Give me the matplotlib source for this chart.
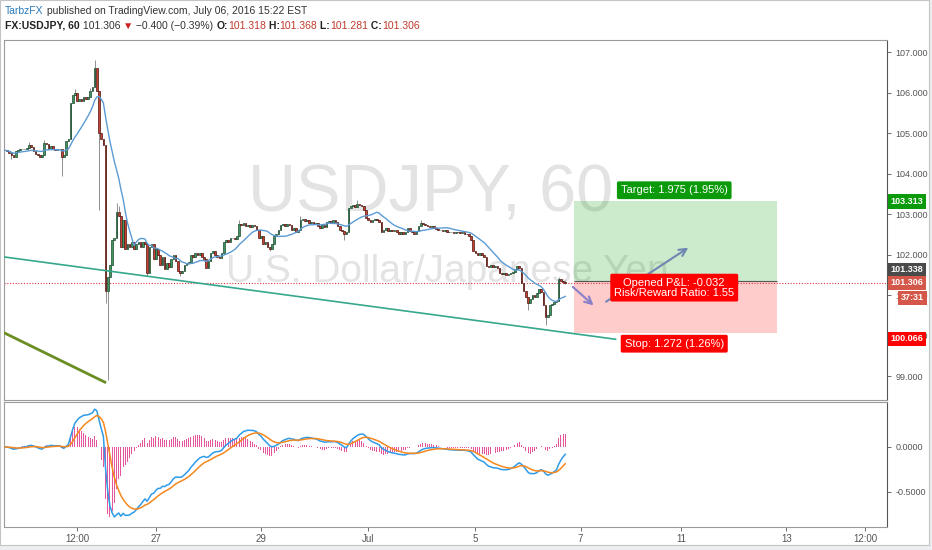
import numpy as np
import pandas as pd
import matplotlib
matplotlib.use('Agg')
import matplotlib.pyplot as plt
import matplotlib.transforms as mtransforms
from matplotlib.patches import Rectangle

plt.rcParams['font.family'] = ['Liberation Sans Narrow', 'Liberation Sans', 'DejaVu Sans']

# hourly bars, index 0 = Jun 27 00:00
first_bar = -69
closes = [
    104.58, 104.55, 104.52, 104.45, 104.42, 104.55, 104.58, 104.60, 104.62, 104.60,
    104.63, 104.70, 104.65, 104.55, 104.48, 104.45, 104.42, 104.45, 104.75, 104.72,
    104.62, 104.68, 104.60, 104.58, 104.60, 104.62, 104.40, 104.45, 104.80,
    104.85, 105.75, 105.95, 106.00, 105.80, 105.85, 105.80, 105.90, 105.85, 105.90,
    106.05, 106.15, 106.60, 106.05, 105.00, 104.85, 104.70, 101.10, 101.45, 101.75,
    102.35, 102.40, 103.05, 102.95, 102.20, 102.85, 102.15, 102.25, 102.20, 102.30,
    102.15, 102.25, 102.30, 102.20, 102.30, 102.25, 101.55, 102.20, 102.25, 101.90,
    102.15, 102.00, 101.75, 101.95, 101.65, 101.80, 101.70, 101.90, 102.00, 101.85,
    101.60, 101.55, 101.60, 101.75, 101.80, 101.82, 102.00, 101.95, 102.05, 102.00,
    102.05, 101.95, 101.90, 101.68, 101.85, 102.05, 102.10, 102.00, 101.95, 101.92,
    102.05, 102.30, 102.35, 102.30, 102.40, 102.42, 102.38, 102.45, 102.75, 102.72,
    102.78, 102.70, 102.74, 102.68, 102.72, 102.70, 102.62, 102.40, 102.45, 102.25,
    102.30, 102.20, 102.15, 102.25, 102.45, 102.52, 102.60, 102.72, 102.75, 102.70,
    102.76, 102.72, 102.60, 102.65, 102.55, 102.62, 102.85, 102.88, 102.82, 102.85,
    102.78, 102.80, 102.75, 102.78, 102.70, 102.65, 102.72, 102.68, 102.80, 102.82,
    102.78, 102.85, 102.80, 102.70, 102.62, 102.58, 102.50, 102.55, 103.15, 103.20,
    103.22, 103.18, 103.25, 103.22, 103.20, 103.10, 102.90, 102.85, 102.80, 102.85,
    102.88, 102.85, 102.80, 102.55, 102.60, 102.65, 102.58, 102.62, 102.58, 102.62,
    102.55, 102.52, 102.55, 102.50, 102.55, 102.65, 102.58, 102.55, 102.52, 102.58,
    102.70, 102.77, 102.75, 102.72, 102.70, 102.68, 102.70, 102.66, 102.64, 102.60,
    102.62, 102.58, 102.60, 102.56, 102.55, 102.57, 102.54, 102.56, 102.55, 102.53,
    102.55, 102.52, 102.50, 102.45, 102.35, 102.10, 102.05, 101.98, 102.05, 102.00,
    101.95, 101.72, 101.70, 101.75, 101.70, 101.72, 101.68, 101.55, 101.52, 101.55,
    101.50, 101.52, 101.55, 101.58, 101.65, 101.72, 101.68, 101.30, 101.10, 100.95,
    100.80, 100.90, 101.00, 100.95, 101.05, 101.15, 101.08, 100.75, 100.45, 100.50,
    100.75, 100.78, 100.82, 100.85, 101.40, 101.35, 101.318, 101.306,
]
spike_high = {-58: 104.78, -51: 104.82, -37: 106.08, -30: 106.12, -28: 106.80,
              -18: 103.27, -17: 103.20, 38: 102.85, 66: 102.95, 92: 103.35,
              121: 102.85, 184: 101.45, 187: 101.368}
spike_low = {-66: 104.35, -43: 103.95, -26: 103.10, -23: 100.80, -22: 98.90, -4: 101.48,
             11: 101.48, 52: 102.10, 86: 102.36, 170: 100.63, 178: 100.26, 187: 101.281}

# drawings
trend_x, trend_y = [-69, 210], [101.94, 99.91]
olive_x, olive_y = [-69, -23.3], [100.06, 98.85]
entry, target, stop = 101.338, 103.313, 100.066
pos_start, pos_end = 191, 283.6
arrow1 = [(189.5, 101.25), (200.9, 100.70)]
arrow2 = [(204.6, 100.80), (244.3, 102.21)]

tick_bars = [-36, 0, 48, 97, 146, 194, 240, 288, 324]
tick_labels = ['12:00', '27', '29', 'Jul', '5', '7', '11', '13', '12:00']
price_ticks = [99, 100, 101, 102, 103, 104, 105, 106, 107]

W, H = 932, 550
fig = plt.figure(figsize=(9.32, 5.5), dpi=100)
fig.patch.set_facecolor('#eceef1')
fig.patches.append(Rectangle((0, 1 - 545 / H), 929 / W, 545 / H, transform=fig.transFigure,
                             facecolor='white', edgecolor='#c4c4c4', lw=0.8, zorder=-10))


def fx(px):
    return px / W


def fy(py):
    return 1 - py / H


ax = fig.add_axes([fx(4), fy(400), fx(887) - fx(4), fy(40) - fy(400)])
axm = fig.add_axes([fx(4), fy(527), fx(887) - fx(4), fy(402) - fy(527)], sharex=ax)

bars = np.arange(first_bar, first_bar + len(closes))
c = np.array(closes)
o = np.concatenate([[c[0]], c[:-1]])
hi = np.maximum(o, c)
lo = np.minimum(o, c)
for k, v in spike_high.items():
    hi[k - first_bar] = v
for k, v in spike_low.items():
    lo[k - first_bar] = v

up = c >= o
face = np.where(up, '#3f9460', '#c8402f')
edge = np.where(up, '#1d4a30', '#4d1510')
ax.vlines(bars, lo, hi, color='#7d7d7d', lw=0.6, zorder=3)
ax.bar(bars, np.maximum(np.abs(c - o), 0.012), bottom=np.minimum(o, c), width=0.75,
       color=face, edgecolor=edge, linewidth=0.5, zorder=4)

ma = pd.Series(c).rolling(14, min_periods=1).mean()
ax.plot(bars, ma, color='#5b9bd5', lw=1.0, zorder=5)

ax.plot(trend_x, trend_y, color='#35a88c', lw=1.2, zorder=5)
ax.plot(olive_x, olive_y, color='#6b8e23', lw=2, zorder=5)
ax.axhline(c[-1], color='#d9363e', lw=0.8, ls=(0, (1, 1.5)), zorder=2)

# watermark
ax.text((431 - 4) / 883, 1 - (194 - 40) / 360, 'USDJPY, 60', transform=ax.transAxes,
        ha='center', va='center', fontsize=48, color='#e3e3e3', zorder=0)
ax.text((447 - 4) / 883, 1 - (272 - 40) / 360, 'U.S. Dollar/Japanese Yen', transform=ax.transAxes,
        ha='center', va='center', fontsize=28, color='#e3e3e3', zorder=0,
        family=['Liberation Sans', 'DejaVu Sans'])

# long position tool
ax.add_patch(Rectangle((pos_start, entry), pos_end - pos_start, target - entry,
                       facecolor=(0, 0.6, 0, 0.2), edgecolor='none', zorder=1))
ax.add_patch(Rectangle((pos_start, stop), pos_end - pos_start, entry - stop,
                       facecolor=(1, 0, 0, 0.2), edgecolor='none', zorder=1))
ax.hlines(entry, pos_start, pos_end, color='#555555', lw=0.8, zorder=2)
mid = (pos_start + pos_end) / 2 - 0.5
box_style = 'round,pad=0.35,rounding_size=0.15'
ax.text(mid, 103.59, 'Target: 1.975 (1.95%)', ha='center', va='center', color='white', fontsize=8,
        zorder=8, bbox=dict(boxstyle=box_style, fc='#0a9a0a', ec='none'))
ax.text(mid, 101.185, 'Opened P&L: -0.032\nRisk/Reward Ratio: 1.55', ha='center', va='center',
        color='white', fontsize=8, linespacing=1.0, zorder=8,
        bbox=dict(boxstyle=box_style, fc='#ff0000', ec='none'))
ax.text(mid, 99.80, 'Stop: 1.272 (1.26%)', ha='center', va='center', color='white', fontsize=8,
        zorder=8, bbox=dict(boxstyle=box_style, fc='#ff0000', ec='none'))
ax.annotate('', xy=arrow1[1], xytext=arrow1[0], zorder=7,
            arrowprops=dict(arrowstyle='->', color='#8a80c8', lw=1.5, mutation_scale=13))
ax.annotate('', xy=arrow2[1], xytext=arrow2[0], zorder=7,
            arrowprops=dict(arrowstyle='->', color='#6f86b3', lw=1.5, mutation_scale=13))

ax.set_xlim(-69.4, 334)
ax.set_ylim(98.41, 107.30)
ax.yaxis.tick_right()
ax.set_yticks(price_ticks, ['%.3f' % p for p in price_ticks])
ax.tick_params(axis='y', direction='out', length=3, width=0.6, labelsize=6.5,
               colors='#555555', pad=3)
ax.tick_params(axis='x', bottom=False, labelbottom=False)
for s in ['left', 'top', 'bottom']:
    ax.spines[s].set_color('#9a9a9a')
ax.spines['right'].set_color('#555555')

# price tags on the scale
trans = mtransforms.blended_transform_factory(ax.transAxes, ax.transData)
tags = [(target, '103.313', '#0a9a0a', 0, 0), (entry, '101.338', '#4a4a4a', 0, 8.4),
        (c[-1], '101.306', '#d5574a', 0, 0), (c[-1], '37:31', '#d5574a', 7.5, -10.8),
        (stop, '100.066', '#ff0000', 0, -4.3)]
for price, txt, col, dx, dy in tags:
    ax.annotate(txt, xy=(1.0, price), xycoords=trans, xytext=(2.4 + dx, dy),
                textcoords='offset points', ha='left', va='center', color='white',
                fontsize=6.5, fontweight='bold', annotation_clip=False, zorder=10,
                bbox=dict(boxstyle='square,pad=0.3', fc=col, ec='none'))

# MACD
ema12 = pd.Series(c).ewm(span=12, adjust=False).mean()
ema26 = pd.Series(c).ewm(span=26, adjust=False).mean()
macd = ema12 - ema26
signal = macd.ewm(span=9, adjust=False).mean()
hist = 1.4 * (macd - signal)
axm.bar(bars, hist, width=0.45, color='#e5559b', zorder=2)
axm.plot(bars, macd, color='#2f9be8', lw=1.1, zorder=3)
axm.plot(bars, signal, color='#f5871f', lw=1.1, zorder=3)
axm.set_ylim(-0.889, 0.5)
axm.yaxis.tick_right()
axm.set_yticks([0.0, -0.5], ['0.0000', '-0.5000'])
axm.tick_params(axis='y', direction='out', length=3, width=0.6, labelsize=6.5,
                colors='#555555', pad=3)
axm.set_xticks(tick_bars, tick_labels)
axm.tick_params(axis='x', direction='out', length=3, width=0.6, labelsize=7,
                colors='#555555', pad=2)
for s in ['left', 'top', 'bottom']:
    axm.spines[s].set_color('#9a9a9a')
axm.spines['right'].set_color('#555555')

# header
renderer = fig.canvas.get_renderer()


def pieces(items, x0, y, size):
    x = x0
    for txt, col, weight in items:
        t = fig.text(fx(x), fy(y), txt, color=col, fontsize=size, fontweight=weight,
                     ha='left', va='center')
        x += t.get_window_extent(renderer).width


pieces([('TarbzFX', '#2a7ab8', 'normal'),
        (' published on TradingView.com, July 06, 2016 15:22 EST', '#333333', 'normal')], 5, 11, 7.5)
pieces([('FX:USDJPY, 60', '#222222', 'bold'), (' 101.306 ', '#333333', 'normal'),
        ('\u25bc', '#cc1f1f', 'normal'), (' \u22120.400 (\u22120.39%) ', '#333333', 'normal'),
        ('O:', '#222222', 'bold'), ('101.318', '#c0392b', 'normal'),
        (' H:', '#222222', 'bold'), ('101.368', '#c0392b', 'normal'),
        (' L:', '#222222', 'bold'), ('101.281', '#c0392b', 'normal'),
        (' C:', '#222222', 'bold'), ('101.306', '#c0392b', 'normal')], 5, 26, 7.5)

fig.savefig('out.png', dpi=100, facecolor=fig.get_facecolor())
